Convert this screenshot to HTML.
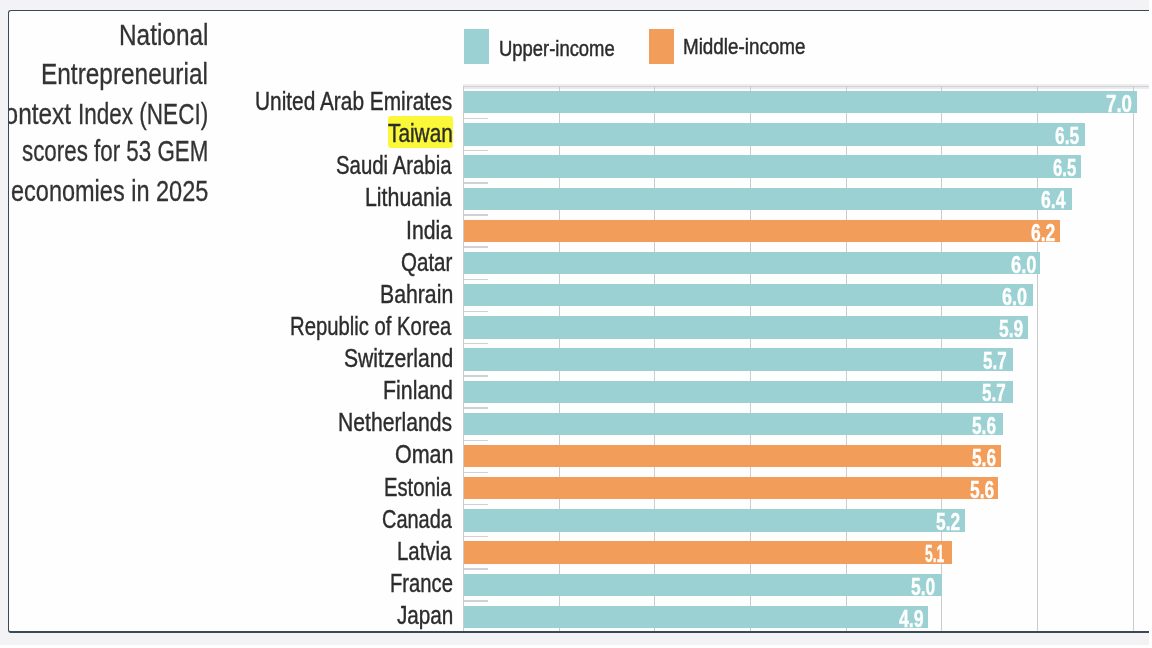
<!DOCTYPE html>
<html lang="en">
<head>
<meta charset="utf-8">
<title>National Entrepreneurial Context Index (NECI) scores for 53 GEM economies in 2025</title>
<style>
html,body{margin:0;padding:0;}
body{width:1152px;height:648px;background:#fefefe;overflow:hidden;position:relative;font-family:"Liberation Sans",sans-serif;color:#333;}
.stage{position:absolute;left:0;top:0;width:1149px;height:645px;background:#f3f2f4;overflow:hidden;}
.card{position:absolute;left:8px;top:10px;width:1160px;height:620px;background:#fefefe;border-style:solid;border-color:#384a58;border-width:1px 0 2px 1px;border-radius:3px 0 0 3px;box-sizing:content-box;}
.clip{position:absolute;left:9px;top:11px;width:1140px;height:620px;overflow:hidden;}
.inner{position:absolute;left:-9px;top:-11px;width:1152px;height:648px;}
.abs{position:absolute;}
.t{position:absolute;white-space:nowrap;display:block;transform-origin:0 0;}
.grid{position:absolute;width:1px;background:#cbcbcd;top:86px;height:546px;}
.bar{position:absolute;left:464.0px;height:22.4px;}
.up{background:#9bd1d3;}
.mid{background:#f39d5b;}
.sw{position:absolute;top:29.3px;width:25.3px;height:35px;}
.tick{position:absolute;left:464px;width:23.5px;height:1.4px;background:#d0d0d6;}
.val{font-size:23px;line-height:23px;color:#fff;font-weight:bold;-webkit-text-stroke:0.35px #fff;}
.title{font-size:29px;line-height:29px;color:#333;-webkit-text-stroke:0.3px #333;}
.lab{font-size:25.5px;line-height:25.5px;color:#2c2c2c;-webkit-text-stroke:0.4px #2c2c2c;}
.leg{font-size:21.5px;line-height:21.5px;color:#2b2b2b;-webkit-text-stroke:0.45px #2b2b2b;}
.hl{position:absolute;left:387.8px;top:116px;width:65.2px;height:32px;background:#fbf838;border-radius:3px;}
.axis{position:absolute;left:463px;top:84px;width:690px;height:5px;background:linear-gradient(to bottom,#efefef 0,#ececec 1.9px,#d2d2d2 1.9px,#d2d2d2 3px,#e8e8ec 3px,#eeeef2 5px);}
</style>
</head>
<body>
<div class="stage">
<div class="card"></div>
<div class="clip"><div class="inner">

<span class="t title" style="left:118.65px;top:21px;transform:scaleX(0.8405);">National</span>
<span class="t title" style="left:41.25px;top:60px;transform:scaleX(0.8417);">Entrepreneurial</span>
<span class="t title" style="left:-13.50px;top:100px;transform:scaleX(0.8414);">Context</span>
<span class="t title" style="left:77.67px;top:100px;transform:scaleX(0.7766);">Index (NECI)</span>
<span class="t title" style="left:21.73px;top:137px;transform:scaleX(0.7706);">scores for 53 GEM</span>
<span class="t title" style="left:10.76px;top:177px;transform:scaleX(0.8104);">economies in 2025</span>
<div class="sw up" style="left:464px"></div>
<span class="t leg" style="left:498.93px;top:39px;transform:scaleX(0.8570);">Upper-income</span>
<div class="sw mid" style="left:648.6px"></div>
<span class="t leg" style="left:682.89px;top:37px;transform:scaleX(0.8756);">Middle-income</span>
<div class="axis"></div>
<div class="grid" style="left:463.00px"></div>
<div class="grid" style="left:558.69px"></div>
<div class="grid" style="left:654.38px"></div>
<div class="grid" style="left:750.07px"></div>
<div class="grid" style="left:845.76px"></div>
<div class="grid" style="left:941.45px"></div>
<div class="grid" style="left:1037.14px"></div>
<div class="grid" style="left:1132.83px"></div>
<div class="tick" style="top:117.79px"></div>
<div class="tick" style="top:149.96px"></div>
<div class="tick" style="top:182.14px"></div>
<div class="tick" style="top:214.31px"></div>
<div class="tick" style="top:246.49px"></div>
<div class="tick" style="top:278.66px"></div>
<div class="tick" style="top:310.84px"></div>
<div class="tick" style="top:343.01px"></div>
<div class="tick" style="top:375.19px"></div>
<div class="tick" style="top:407.36px"></div>
<div class="tick" style="top:439.54px"></div>
<div class="tick" style="top:471.71px"></div>
<div class="tick" style="top:503.89px"></div>
<div class="tick" style="top:536.06px"></div>
<div class="tick" style="top:568.24px"></div>
<div class="tick" style="top:600.41px"></div>
<div class="hl"></div>
<div class="bar up" style="top:91.00px;width:673.00px"></div>
<span class="t lab" style="left:255.43px;top:89px;transform:scaleX(0.8179);">United Arab Emirates</span>
<span class="t val" style="left:1105.55px;top:93px;transform:scaleX(0.8131);">7.0</span>
<div class="bar up" style="top:123.17px;width:620.70px"></div>
<span class="t lab" style="left:388.18px;top:121px;transform:scaleX(0.8167);">Taiwan</span>
<span class="t val" style="left:1055.11px;top:125px;transform:scaleX(0.7543);">6.5</span>
<div class="bar up" style="top:155.35px;width:616.50px"></div>
<span class="t lab" style="left:336.18px;top:153px;transform:scaleX(0.7990);">Saudi Arabia</span>
<span class="t val" style="left:1052.63px;top:157px;transform:scaleX(0.7246);">6.5</span>
<div class="bar up" style="top:187.52px;width:608.00px"></div>
<span class="t lab" style="left:365.09px;top:185px;transform:scaleX(0.8365);">Lithuania</span>
<span class="t val" style="left:1041.29px;top:189px;transform:scaleX(0.7665);">6.4</span>
<div class="bar mid" style="top:219.70px;width:595.50px"></div>
<span class="t lab" style="left:405.69px;top:218px;transform:scaleX(0.8314);">India</span>
<span class="t val" style="left:1030.60px;top:222px;transform:scaleX(0.7600);">6.2</span>
<div class="bar up" style="top:251.88px;width:576.20px"></div>
<span class="t lab" style="left:400.77px;top:250px;transform:scaleX(0.8053);">Qatar</span>
<span class="t val" style="left:1010.57px;top:254px;transform:scaleX(0.7965);">6.0</span>
<div class="bar up" style="top:284.05px;width:568.80px"></div>
<span class="t lab" style="left:379.90px;top:282px;transform:scaleX(0.8330);">Bahrain</span>
<span class="t val" style="left:1001.78px;top:286px;transform:scaleX(0.7866);">6.0</span>
<div class="bar up" style="top:316.22px;width:564.00px"></div>
<span class="t lab" style="left:290.48px;top:314px;transform:scaleX(0.7953);">Republic of Korea</span>
<span class="t val" style="left:999.48px;top:318px;transform:scaleX(0.7576);">5.9</span>
<div class="bar up" style="top:348.40px;width:548.50px"></div>
<span class="t lab" style="left:343.94px;top:346px;transform:scaleX(0.8286);">Switzerland</span>
<span class="t val" style="left:983.29px;top:350px;transform:scaleX(0.7378);">5.7</span>
<div class="bar up" style="top:380.57px;width:548.50px"></div>
<span class="t lab" style="left:383.19px;top:378px;transform:scaleX(0.8369);">Finland</span>
<span class="t val" style="left:982.49px;top:382px;transform:scaleX(0.7411);">5.7</span>
<div class="bar up" style="top:412.75px;width:539.00px"></div>
<span class="t lab" style="left:338.41px;top:410px;transform:scaleX(0.8289);">Netherlands</span>
<span class="t val" style="left:972.48px;top:415px;transform:scaleX(0.7510);">5.6</span>
<div class="bar mid" style="top:444.92px;width:537.00px"></div>
<span class="t lab" style="left:394.53px;top:442px;transform:scaleX(0.8429);">Oman</span>
<span class="t val" style="left:971.98px;top:447px;transform:scaleX(0.7510);">5.6</span>
<div class="bar mid" style="top:477.10px;width:534.30px"></div>
<span class="t lab" style="left:384.18px;top:475px;transform:scaleX(0.7927);">Estonia</span>
<span class="t val" style="left:969.78px;top:479px;transform:scaleX(0.7576);">5.6</span>
<div class="bar up" style="top:509.27px;width:500.70px"></div>
<span class="t lab" style="left:381.90px;top:507px;transform:scaleX(0.7820);">Canada</span>
<span class="t val" style="left:935.78px;top:511px;transform:scaleX(0.7543);">5.2</span>
<div class="bar mid" style="top:541.45px;width:488.00px"></div>
<span class="t lab" style="left:397.27px;top:539px;transform:scaleX(0.7995);">Latvia</span>
<span class="t val" style="left:925.38px;top:543px;transform:scaleX(0.6015);">5.1</span>
<div class="bar up" style="top:573.62px;width:478.20px"></div>
<span class="t lab" style="left:389.68px;top:571px;transform:scaleX(0.7922);">France</span>
<span class="t val" style="left:911.18px;top:576px;transform:scaleX(0.7576);">5.0</span>
<div class="bar up" style="top:605.80px;width:464.30px"></div>
<span class="t lab" style="left:396.69px;top:603px;transform:scaleX(0.8111);">Japan</span>
<span class="t val" style="left:898.85px;top:608px;transform:scaleX(0.7715);">4.9</span>
</div></div>
</div>
</body>
</html>
